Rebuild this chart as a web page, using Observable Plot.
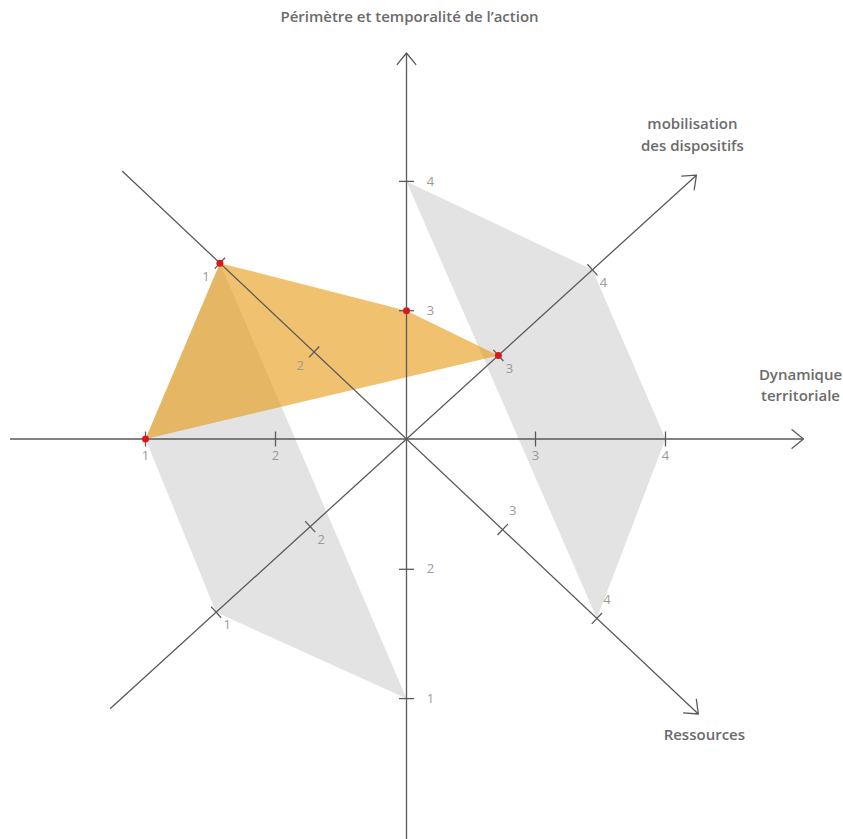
<!DOCTYPE html>
<html><head><meta charset="utf-8">
<script src="https://cdn.jsdelivr.net/npm/d3@7"></script>
<script src="https://cdn.jsdelivr.net/npm/@observablehq/plot@0.6"></script>
<style>body{margin:0;background:#fff}</style>
</head><body><div id="chart"></div>
<script>
// ---- data ----
const axisNames = ["Dynamique territoriale", "mobilisation des dispositifs", "Périmètre et temporalité de l’action", "Ressources"];
const axisTitles = ["Dynamique\nterritoriale", "mobilisation\ndes dispositifs", "Périmètre et temporalité de l’action", "Ressources"];
const tickValues = [1, 2, 3, 4];
const tickLabels = ["1", "2", "3", "4"];
const profileValues = [1, 3, 3, 1];      // orange profile (per axis)
const upperBandValues = [4, 4, 4, 4];    // grey zone, high
const lowerBandValues = [1, 1, 1, 1];    // grey zone, low

// ---- layout ----
const W = 843, H = 839;
const CX = 406, CY = 438.5, UNIT = 129;
const axisAngle = [0, 42.3, 90, -43.3];
const axisUnitPx = [130, 127.2, 129.3, 129.5];
const axisShiftPx = [-1, -3, -1, 2.6];
const axisExtentPx = [[-396, 397], [-400, 392], [-401, 386], [-390, 401]];
const labelOffsets = [
  {low: [0, 17], high: [0, 17]},
  {low: [11, 13], high: [11, 13]},
  {low: [24, 0], high: [24, 0]},
  {low: [-14, 14], high: [10, -19]}
];
const titleOffsets = [[-3, -55], [-4, -42], [3, -38], [6, 19]];
const TITLE_FONT = "'Open Sans', sans-serif";

const offsetOf = v => v <= 2 ? v - 3 : v - 2;
const dir = i => { const a = axisAngle[i] * Math.PI / 180; return [Math.cos(a), Math.sin(a)]; };
const ptPx = (i, px) => { const [c, s] = dir(i); return [px * c / UNIT, px * s / UNIT]; };
const ptVal = (i, v) => ptPx(i, axisShiftPx[i] + offsetOf(v) * axisUnitPx[i]);

function polygon(name, values) {
  return values.map((v, i) => { const [x, y] = ptVal(i, v); return {series: name, axis: axisNames[i], value: v, x, y}; });
}
const upperPoly = polygon("haut", upperBandValues);
const lowerPoly = polygon("bas", lowerBandValues);
const profilePoly = polygon("profil", profileValues);

const axesData = axisNames.map((name, i) => {
  const [x1, y1] = ptPx(i, axisExtentPx[i][0]);
  const [x2, y2] = ptPx(i, axisExtentPx[i][1]);
  return {name, i, x1, y1, x2, y2};
});

const half = 7.5 / UNIT;
const ticksData = [];
axisNames.forEach((name, i) => {
  const [c, s] = dir(i);
  tickValues.forEach((v, k) => {
    const [x, y] = ptVal(i, v);
    ticksData.push({axis: i, value: v, label: tickLabels[k], side: v <= 2 ? "low" : "high", x, y,
      x1: x - s * half, y1: y + c * half, x2: x + s * half, y2: y - c * half});
  });
});

const labelMarks = [];
axisNames.forEach((name, i) => {
  ["low", "high"].forEach(side => {
    const [dx, dy] = labelOffsets[i][side];
    labelMarks.push(Plot.text(ticksData.filter(d => d.axis === i && d.side === side), {
      x: "x", y: "y", text: "label", dx, dy, fill: "#9a9a9a", fontSize: 13,
      fontFamily: "'Open Sans', sans-serif", textAnchor: "middle"
    }));
  });
});

const titleMarks = axesData.map((a, i) => Plot.text([a], {
  x: "x2", y: "y2", text: () => axisTitles[i], dx: titleOffsets[i][0], dy: titleOffsets[i][1],
  fill: "#6b6b6b", fontSize: 15, fontWeight: 600, fontFamily: TITLE_FONT, lineHeight: 1.42, textAnchor: "middle"
}));

const chart = Plot.plot({
  width: W, height: H,
  margin: 0,
  x: {domain: [-CX / UNIT, (W - CX) / UNIT], axis: null},
  y: {domain: [-(H - CY) / UNIT, CY / UNIT], axis: null},
  style: {background: "#fff"},
  marks: [
    Plot.line(upperPoly, {x: "x", y: "y", curve: "linear-closed", fill: "#e3e3e3", stroke: "none"}),
    Plot.line(lowerPoly, {x: "x", y: "y", curve: "linear-closed", fill: "#e3e3e3", stroke: "none"}),
    Plot.line(profilePoly, {x: "x", y: "y", curve: "linear-closed", fill: "rgb(230,152,13)", fillOpacity: 0.6, stroke: "none"}),
    Plot.arrow(axesData, {x1: "x1", y1: "y1", x2: "x2", y2: "y2", stroke: "#5a5a5a", strokeWidth: 1.3, headLength: 17, headAngle: 78}),
    Plot.link(ticksData, {x1: "x1", y1: "y1", x2: "x2", y2: "y2", stroke: "#5a5a5a", strokeWidth: 1.3}),
    ...labelMarks,
    Plot.dot(profilePoly, {x: "x", y: "y", r: 3.5, fill: "#d7191c", stroke: "none"}),
    ...titleMarks
  ]
});
document.getElementById("chart").appendChild(chart);
</script>
</body></html>
